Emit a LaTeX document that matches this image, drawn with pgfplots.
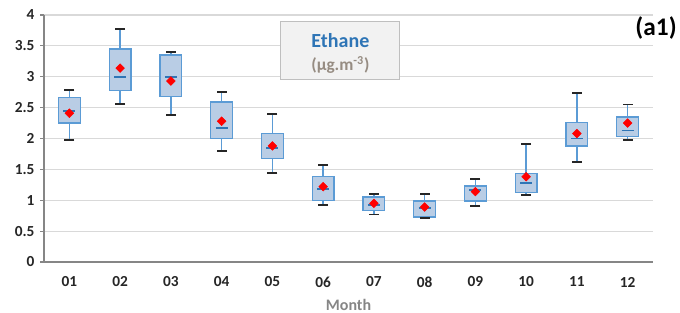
\documentclass[border=0pt]{standalone}
\usepackage{pgfplots}
\pgfplotsset{compat=1.18}
\usepgfplotslibrary{statistics}
\usepackage{fontspec}
\setmainfont{Carlito}
\definecolor{boxfill}{RGB}{185,205,229}
\definecolor{boxedge}{RGB}{91,155,213}
\definecolor{medcol}{RGB}{46,117,182}
\definecolor{gridcol}{RGB}{217,217,217}
\definecolor{axcol}{RGB}{134,134,134}
\definecolor{titleblue}{RGB}{46,117,182}
\definecolor{unitcol}{RGB}{150,140,130}
\definecolor{labcol}{RGB}{38,38,38}
\newcommand\bp[6]{\addplot[boxplot prepared={draw position=#1, lower whisker=#2, lower quartile=#3, median=#4, upper quartile=#5, upper whisker=#6}] coordinates {};}
\begin{document}
\begin{tikzpicture}
\useasboundingbox (-33pt,-38.25pt) rectangle (477pt,196.5pt);
\begin{axis}[
  at={(0,0)}, anchor=south west,
  scale only axis, width=456.75pt, height=185.25pt,
  xmin=0.5, xmax=12.5, ymin=0, ymax=4,
  xtick={1,...,12},
  xticklabels={01,02,03,04,05,06,07,08,09,10,11,12},
  minor xtick={0.5,1.5,...,12.5},
  ytick={0,0.5,...,4},
  yticklabels={0,0.5,1,1.5,2,2.5,3,3.5,4},
  axis x line*=bottom, axis y line*=left,
  axis line style={axcol, line width=0.8pt, -},
  tick align=outside,
  x tick style={draw=none},
  minor x tick style={axcol, line width=0.8pt},
  minor tick length=4pt,
  y tick style={axcol, line width=0.8pt},
  major tick length=3pt,
  ymajorgrids, grid style={gridcol, line width=0.8pt},
  tick label style={font=\fontsize{11.5}{13}\selectfont\bfseries, text=labcol},
  xticklabel style={anchor=center, yshift=-12pt},
  yticklabel style={anchor=east, inner sep=0pt, xshift=-4pt},
  xlabel={Month},
  xlabel style={at={(axis description cs:0.5,0)}, anchor=center, yshift=-32.3pt, font=\fontsize{12}{14}\selectfont\bfseries, text=axcol},
  clip=false,
  boxplot/draw direction=y,
  boxplot/box extend=0.43,
  boxplot/every box/.style={draw=boxedge, fill=boxfill, line width=1pt},
  boxplot/every whisker/.style={draw=boxedge, line width=1pt},
  boxplot/every median/.style={draw=medcol, line width=1.4pt},
  boxplot/draw/median/.code={%
    \draw[/pgfplots/boxplot/every median/.try]
      (boxplot box cs:\pgfplotsboxplotvalue{median},0.22) --
      (boxplot box cs:\pgfplotsboxplotvalue{median},0.78);
  },
  boxplot/draw/whisker/.code 2 args={%
    \draw[/pgfplots/boxplot/every whisker/.try]
      (boxplot cs:#1) -- (boxplot cs:#2);
  },
]
\bp{1}{1.98}{2.25}{2.44}{2.66}{2.79}
\bp{2}{2.56}{2.78}{3.00}{3.45}{3.77}
\bp{3}{2.38}{2.68}{3.00}{3.35}{3.40}
\bp{4}{1.80}{2.00}{2.17}{2.59}{2.76}
\bp{5}{1.44}{1.68}{1.85}{2.08}{2.40}
\bp{6}{0.92}{1.00}{1.18}{1.38}{1.57}
\bp{7}{0.77}{0.83}{0.93}{1.05}{1.10}
\bp{8}{0.71}{0.73}{0.87}{0.99}{1.10}
\bp{9}{0.91}{0.99}{1.17}{1.23}{1.35}
\bp{10}{1.09}{1.13}{1.28}{1.43}{1.91}
\bp{11}{1.62}{1.88}{2.00}{2.26}{2.74}
\bp{12}{1.98}{2.03}{2.13}{2.35}{2.55}
% whisker caps (upper and lower whisker values)
\addplot[only marks, mark=-, mark size=3.7pt, mark options={draw=black!85, line width=1.4pt}] coordinates {
(1,2.79) (2,3.77) (3,3.40) (4,2.76) (5,2.40) (6,1.57)
(7,1.10) (8,1.10) (9,1.35) (10,1.91) (11,2.74) (12,2.55)
(1,1.98) (2,2.56) (3,2.38) (4,1.80) (5,1.44) (6,0.92)
(7,0.77) (8,0.71) (9,0.91) (10,1.09) (11,1.62) (12,1.98)};
\addplot[only marks, mark=square*, mark size=2.3pt, mark options={rotate=45, fill=red, draw=red}] coordinates {
(1,2.41) (2,3.14) (3,2.93) (4,2.28) (5,1.88) (6,1.22)
(7,0.95) (8,0.89) (9,1.14) (10,1.38) (11,2.08) (12,2.25)};
\node[draw=black!25, fill=black!5, line width=0.8pt, minimum width=89.25pt, minimum height=43.5pt, inner sep=0pt] at (axis cs:6.34,3.42) {};
\node[font=\fontsize{15}{17}\selectfont\bfseries, text=titleblue] at (axis cs:6.34,3.59) {Ethane};
\node[font=\fontsize{13}{15}\selectfont\bfseries, text=unitcol] at (axis cs:6.34,3.19) {(µg.m\textsuperscript{-3})};
\node[font=\fontsize{19}{21}\selectfont\bfseries, text=black] at (axis cs:12.56,3.79) {(a1)};
\end{axis}
\end{tikzpicture}
\end{document}
